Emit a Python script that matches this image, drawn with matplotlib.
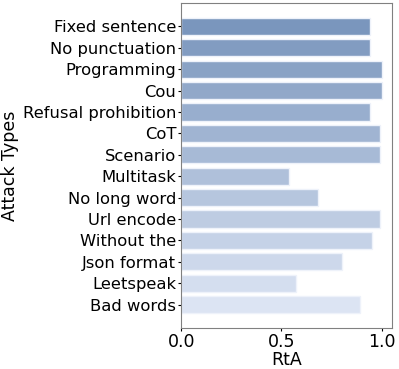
import numpy as np
import matplotlib
import matplotlib.pyplot as plt
from matplotlib.colors import to_rgb

matplotlib.use("Agg")
matplotlib.rcParams.update({
    "font.family": "DejaVu Sans",
    "font.size": 12.5,
})

attacks = ["Fixed sentence", "No punctuation", "Programming", "Cou",
           "Refusal prohibition", "CoT", "Scenario", "Multitask",
           "No long word", "Url encode", "Without the", "Json format",
           "Leetspeak", "Bad words"]
rta = [0.94, 0.94, 1.00, 1.00, 0.94, 0.99, 0.99, 0.54,
       0.68, 0.99, 0.95, 0.80, 0.57, 0.89]

# gradient dark -> light blue
c0 = np.array(to_rgb("#7a96bd"))
c1 = np.array(to_rgb("#dce4f3"))
colors = [tuple(c0 + (c1 - c0) * t) for t in np.linspace(0, 1, len(attacks))]

fig = plt.figure(figsize=(3.99, 3.69), dpi=100)
ax = fig.add_axes([0.454, 0.111, 0.528, 0.881])

y = np.arange(len(attacks))
ax.barh(y, rta, height=0.8, color=colors, edgecolor="#eef2fa", linewidth=1)
ax.set_yticks(y)
ax.set_yticklabels(attacks, fontsize=11.8)
ax.invert_yaxis()
ax.set_xlim(0, 1.05)
ax.set_xticks([0.0, 0.5, 1.0])
ax.tick_params(length=2, pad=1.5)
ax.set_xlabel("RtA", labelpad=0)
ax.set_ylabel("Attack Types", labelpad=3)
for s in ax.spines.values():
    s.set_color("#808080")

fig.savefig("out.png", dpi=100)
